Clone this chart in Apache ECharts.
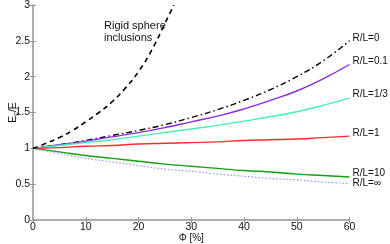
<!DOCTYPE html>
<html><head><meta charset="utf-8">
<script src="https://cdn.jsdelivr.net/npm/echarts@6/dist/echarts.min.js"></script>
<style>html,body{margin:0;padding:0;background:#fff}#c{width:390px;height:244px}</style>
</head><body><div id="c"></div>
<script>
const phi = [0,5,10,15,20,25,30,35,40,45,50,55,60];
const rl0   = [1.00,1.05,1.11,1.18,1.25,1.33,1.43,1.54,1.67,1.82,2.00,2.22,2.50];
const rl01  = [1.00,1.05,1.10,1.16,1.22,1.29,1.37,1.45,1.55,1.67,1.80,1.97,2.17];
const rl13  = [1.00,1.04,1.08,1.12,1.17,1.22,1.27,1.32,1.38,1.44,1.51,1.60,1.70];
const rl1   = [1.00,1.01,1.03,1.04,1.06,1.07,1.08,1.09,1.11,1.12,1.13,1.15,1.17];
const rl10  = [1.00,0.95,0.90,0.86,0.82,0.78,0.75,0.72,0.69,0.67,0.64,0.62,0.60];
const rlInf = [1.00,0.93,0.86,0.81,0.76,0.71,0.68,0.64,0.61,0.58,0.56,0.53,0.51];
const rigidPhi = [0,2.5,5,7.5,10,12.5,15,17.5,20,22.5,25,26.7];
const rigid    = [1.00,1.07,1.15,1.25,1.37,1.50,1.65,1.84,2.07,2.37,2.74,3.00];
const labels = ['R/L=0','R/L=0.1','R/L=1/3','R/L=1','R/L=10','R/L=\u221e'];
const xTicks = [0,10,20,30,40,50,60];
const yTicks = [0,0.5,1,1.5,2,2.5,3];

const pair = (xs, ys) => xs.map((x,i)=>[x, ys[i]]);
const font = 'Liberation Sans, Arial, sans-serif';
function s(name, data, color, type, width, offY){
  return {
    name, type:'line', data: pair(phi, data), smooth:true, symbol:'none',
    lineStyle:{color, width, type}, z:3,
    endLabel:{show:true, formatter:name, color:'#111', fontSize:10, fontFamily:font, distance:3, offset:[0, offY]}
  };
}
const chart = echarts.init(document.getElementById('c'));
const axisLine = {show:true, lineStyle:{color:'#a8a8a8', width:1.5}};
chart.setOption({
  animation:false,
  grid:{left:33, right:40.5, top:5, bottom:24, containLabel:false, outerBoundsMode:'none'},
  xAxis:[{type:'value', min:0, max:60, interval:10, axisLine, 
    axisTick:{show:true, inside:true, length:3, lineStyle:{color:'#999'}},
    axisLabel:{color:'#111', fontSize:10.5, fontFamily:font, margin:2, formatter:v=>xTicks.includes(v)?String(v):''},
    splitLine:{show:false},
    name:'\u03a6 [%]', nameLocation:'middle', nameGap:13, nameMoveOverlap:false,
    nameTextStyle:{color:'#111', fontSize:10, fontFamily:font}},
    {type:'value', position:'top', min:0, max:60, interval:10, axisLine,
    axisTick:{show:true, inside:true, length:3, lineStyle:{color:'#999'}}, axisLabel:{show:false}, splitLine:{show:false}}],
  yAxis:[{type:'value', min:0, max:3, interval:0.5, axisLine,
    axisTick:{show:true, inside:true, length:3, lineStyle:{color:'#999'}},
    axisLabel:{color:'#111', fontSize:10.5, fontFamily:font, margin:3, formatter:v=>yTicks.includes(v)?String(v):''},
    splitLine:{show:false},
    name:'{a|E}{b|c}{a|/E}', nameLocation:'middle', nameGap:13, nameRotate:90, nameMoveOverlap:false,
    nameTextStyle:{rich:{a:{fontSize:10.5, fontFamily:font, color:'#111'}, b:{fontSize:7.5, fontFamily:font, color:'#111', padding:[5,0,0,0]}}}},
    {type:'value', position:'right', min:0, max:3, interval:0.5, axisLine,
    axisTick:{show:true, inside:true, length:3, lineStyle:{color:'#999'}}, axisLabel:{show:false}, splitLine:{show:false}}],
  series:[
    {name:'Rigid', type:'line', data: pair(rigidPhi, rigid), smooth:true, symbol:'none',
     lineStyle:{color:'#000', width:1.6, type:[5,4]}, z:4},
    s(labels[0], rl0, '#000', [6,3,1.5,3], 1.4, -3),
    s(labels[1], rl01, '#8a2be2', 'solid', 1.4, -3),
    s(labels[2], rl13, '#45f0b8', 'solid', 1.4, -4),
    s(labels[3], rl1, '#ff2a2a', 'solid', 1.4, -3),
    s(labels[4], rl10, '#14a014', 'solid', 1.4, -4),
    s(labels[5], rlInf, '#8a8cff', [1.5,2], 1.1, 0)
  ],
  graphic:[{type:'text', left:104, top:20, style:{text:'Rigid sphere\ninclusions', fontSize:11, lineHeight:12, fontFamily:font, fill:'#111'}}]
});
</script></body></html>
